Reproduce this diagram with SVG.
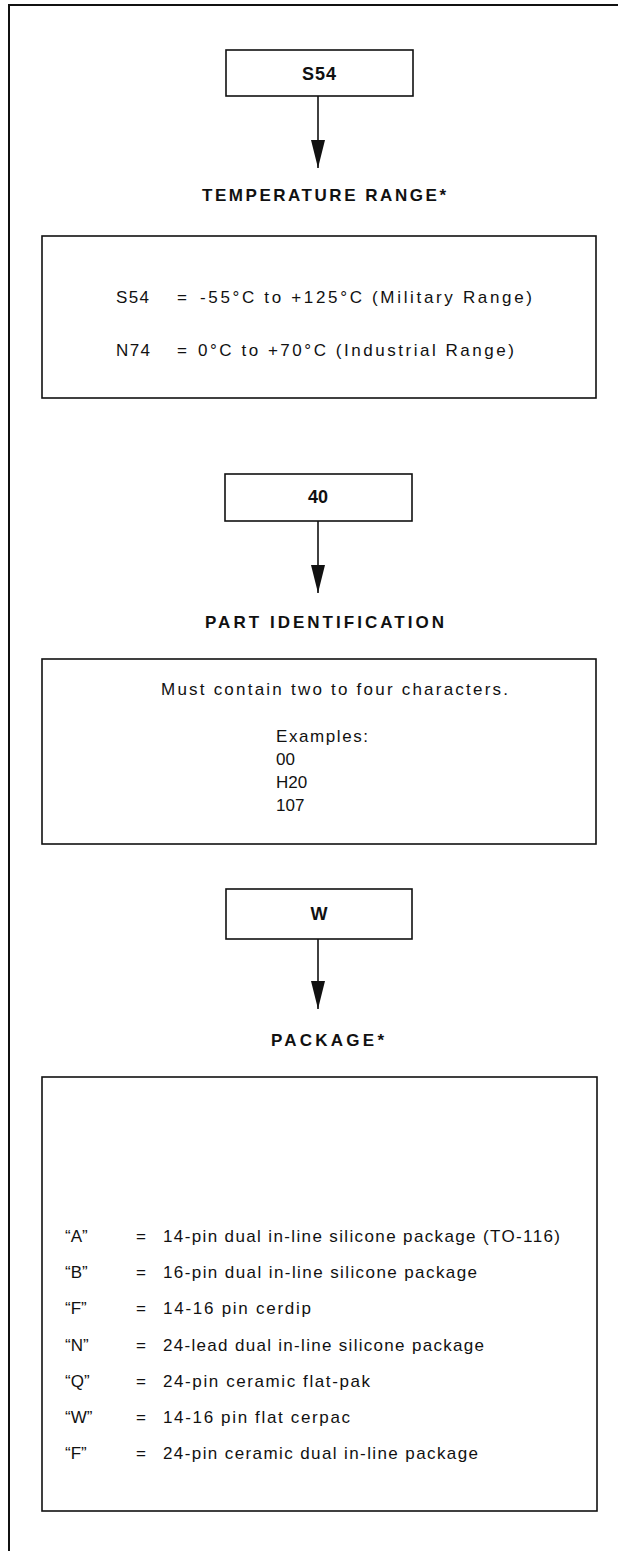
<svg xmlns="http://www.w3.org/2000/svg" width="618" height="1551" viewBox="0 0 618 1551">
<style>
.frame{fill:none;stroke:#111;stroke-width:2}
.box{fill:#fff;stroke:#111;stroke-width:1.6}
.conn{fill:none;stroke:#111;stroke-width:1.6}
.lbl{font-family:"Liberation Sans",Arial,sans-serif;font-weight:bold;font-size:18px;fill:#111;text-anchor:middle}
.ttl{font-family:"Liberation Sans",Arial,sans-serif;font-weight:bold;font-size:17px;fill:#111}
.t{font-family:"Liberation Sans",Arial,sans-serif;font-size:17px;fill:#111}
</style>
<defs>
<marker id="ah" markerUnits="userSpaceOnUse" markerWidth="28" markerHeight="14" refX="28" refY="7" orient="auto" viewBox="0 0 28 14">
<path d="M0,0 L28,7 L0,14 Z" fill="#111"/>
</marker>
</defs>
<rect width="618" height="1551" fill="#fff"/>
<path class="frame" d="M9,1551 L9,5 L618,5"/>

<g id="connectors">
<path class="conn" d="M318,96 V168" marker-end="url(#ah)"/>
<path class="conn" d="M318,521 V593" marker-end="url(#ah)"/>
<path class="conn" d="M318,939 V1009" marker-end="url(#ah)"/>
</g>

<g id="node-s54">
<rect class="box" x="226" y="50" width="187" height="46"/>
<text class="lbl" x="319" y="80" textLength="34" lengthAdjust="spacing">S54</text>
</g>

<g id="title-temperature">
<text class="ttl" x="202" y="201" textLength="244" lengthAdjust="spacing">TEMPERATURE RANGE*</text>
</g>

<g id="node-temperature">
<rect class="box" x="42" y="236" width="554" height="162"/>
<text class="t" x="116" y="303" textLength="33" lengthAdjust="spacing">S54</text>
<text class="t" x="177" y="303">=</text>
<text class="t" x="200" y="303" textLength="332" lengthAdjust="spacing">-55°C to +125°C (Military Range)</text>
<text class="t" x="116" y="356" textLength="34" lengthAdjust="spacing">N74</text>
<text class="t" x="177" y="356">=</text>
<text class="t" x="198" y="356" textLength="316" lengthAdjust="spacing">0°C to +70°C (Industrial Range)</text>
</g>

<g id="node-40">
<rect class="box" x="225" y="474" width="187" height="47"/>
<text class="lbl" x="318" y="503">40</text>
</g>

<g id="title-part">
<text class="ttl" x="205" y="628" textLength="239" lengthAdjust="spacing">PART IDENTIFICATION</text>
</g>

<g id="node-part">
<rect class="box" x="42" y="659" width="554" height="185"/>
<text class="t" x="161" y="695" textLength="347" lengthAdjust="spacing">Must contain two to four characters.</text>
<text class="t" x="276" y="742" textLength="92" lengthAdjust="spacing">Examples:</text>
<text class="t" x="276" y="765">00</text>
<text class="t" x="276" y="788">H20</text>
<text class="t" x="276" y="811">107</text>
</g>

<g id="node-w">
<rect class="box" x="226" y="889" width="186" height="50"/>
<text class="lbl" x="319" y="920">W</text>
</g>

<g id="title-package">
<text class="ttl" x="271" y="1046" textLength="113" lengthAdjust="spacing">PACKAGE*</text>
</g>

<g id="node-package">
<rect class="box" x="42" y="1077" width="555" height="434"/>
<text class="t" x="65" y="1242">“A”</text><text class="t" x="136" y="1242">=</text>
<text class="t" x="163" y="1242" textLength="397" lengthAdjust="spacing">14-pin dual in-line silicone package (TO-116)</text>
<text class="t" x="65" y="1278">“B”</text><text class="t" x="136" y="1278">=</text>
<text class="t" x="163" y="1278" textLength="314" lengthAdjust="spacing">16-pin dual in-line silicone package</text>
<text class="t" x="65" y="1314">“F”</text><text class="t" x="136" y="1314">=</text>
<text class="t" x="163" y="1314" textLength="148" lengthAdjust="spacing">14-16 pin cerdip</text>
<text class="t" x="65" y="1351">“N”</text><text class="t" x="136" y="1351">=</text>
<text class="t" x="163" y="1351" textLength="321" lengthAdjust="spacing">24-lead dual in-line silicone package</text>
<text class="t" x="65" y="1387">“Q”</text><text class="t" x="136" y="1387">=</text>
<text class="t" x="163" y="1387" textLength="207" lengthAdjust="spacing">24-pin ceramic flat-pak</text>
<text class="t" x="65" y="1423">“W”</text><text class="t" x="136" y="1423">=</text>
<text class="t" x="163" y="1423" textLength="187" lengthAdjust="spacing">14-16 pin flat cerpac</text>
<text class="t" x="65" y="1459">“F”</text><text class="t" x="136" y="1459">=</text>
<text class="t" x="163" y="1459" textLength="315" lengthAdjust="spacing">24-pin ceramic dual in-line package</text>
</g>
</svg>
